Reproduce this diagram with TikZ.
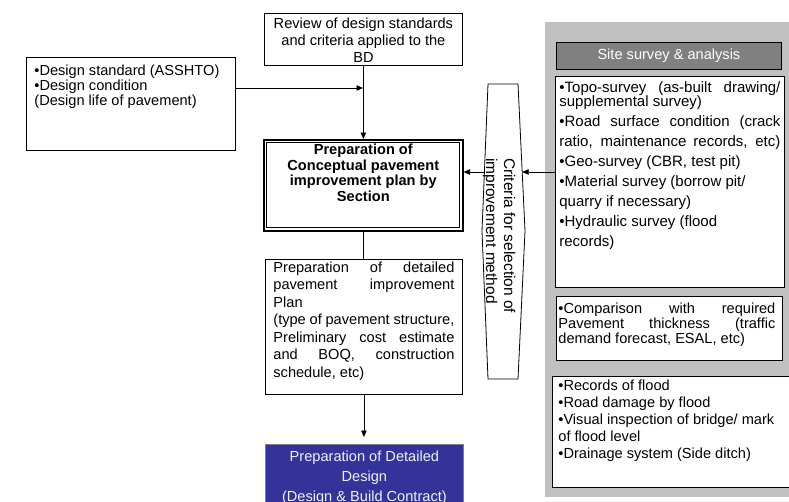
\documentclass[tikz,border=0pt]{standalone}
\usepackage{fontspec}
\setmainfont{Liberation Sans}
\usetikzlibrary{arrows.meta}

\definecolor{panelgray}{RGB}{192,192,192}
\definecolor{headgray}{RGB}{128,128,128}
\definecolor{deepblue}{RGB}{51,51,153}
\definecolor{paletext}{RGB}{240,240,250}

\newcommand\bul{\textbullet}
% one fully justified line of given width
\newcommand\jline[2][\linewidth]{\makebox[#1][s]{#2}}

\begin{document}
\begin{tikzpicture}[x=1pt,y=-1pt,
  font=\fontsize{14.6}{17}\selectfont,
  cell/.style={draw, line width=0.8pt, fill=white, anchor=north west, inner ysep=0pt},
  arr/.style={line width=0.8pt, -{Triangle[length=6.5pt,width=5.5pt]}},
  link/.style={line width=0.8pt}]
\useasboundingbox (0,0) rectangle (789,501);
\clip (0,0) rectangle (789,501);

% grey background of the survey column
\node[fill=panelgray, anchor=north west, minimum width=255pt, minimum height=475pt, inner sep=0pt] (panel) at (545,22) {};

% left-hand flow
\node[cell, inner xsep=2pt] (review) at (264,13)
  {\parbox[c][52pt][t]{194pt}{\centering\vspace*{4.5pt}Review of design standards\\ and criteria applied to the\\ BD}};

\node[cell, inner xsep=8pt] (cond) at (26,57)
  {\parbox[c][93pt][t]{193pt}{\fontsize{14.6}{14.7}\selectfont\vspace*{8pt}\bul Design standard (ASSHTO)\\ \bul Design condition\\ (Design life of pavement)}};

\node[cell, line width=1.6pt, inner xsep=2pt] (concept) at (263,139)
  {\parbox[c][91pt][t]{195pt}{\centering\bfseries\fontsize{14.6}{15.8}\selectfont\vspace*{4pt}Preparation of\\ Conceptual pavement\\ improvement plan by\\ Section}};
\draw[line width=0.7pt] ([shift={(3.8pt,-3.8pt)}]concept.north west) rectangle ([shift={(-3.8pt,3.8pt)}]concept.south east);

\node[cell, inner xsep=8pt] (detail) at (265,259)
  {\parbox[c][135pt][t]{181pt}{\fontsize{14.6}{17.5}\selectfont\vspace*{2.4pt}\jline{Preparation of detailed}\\ \jline{pavement improvement}\\ Plan\\ (type of pavement structure,\\ \jline{Preliminary cost estimate}\\ \jline{and BOQ, construction}\\ schedule, etc)}};

\node[cell, fill=deepblue, draw=gray, text=paletext, inner xsep=2pt] (final) at (265,444)
  {\parbox[c][70pt][t]{194pt}{\centering\fontsize{14.6}{20}\selectfont\vspace*{7pt}Preparation of Detailed\\ Design\\ (Design \& Build Contract)}};

% selection criteria
\draw[link, fill=white] (488,84) -- (518,84) -- (525,231) -- (518,379) -- (488,379) -- (482,231) -- cycle;
\coordinate (hexL) at (484.4,172);
\coordinate (hexR) at (522.2,172);
\node[rotate=-90, anchor=north west, inner sep=0pt, align=left, font=\fontsize{15.5}{18}\selectfont] (crit) at (515.6,158)
  {Criteria for selection of\\ improvement method};

% survey column
\node[draw, line width=0.8pt, fill=headgray, text=white, minimum width=225pt, minimum height=27pt, inner sep=0pt, anchor=north west] (head) at (556,42) {Site survey \& analysis};

\node[cell, inner xsep=4pt] (site) at (555,76)
  {\parbox[c][211pt][t]{221pt}{\fontsize{15}{20}\selectfont\vspace*{5pt}{\baselineskip=14.5pt \jline{\bul Topo-survey (as-built drawing/}\\ supplemental survey)\par}\jline{\bul Road surface condition (crack}\\ \jline{ratio, maintenance records, etc)}\\ \bul Geo-survey (CBR, test pit)\\ \bul Material survey (borrow pit/\\ quarry if necessary)\\ \bul Hydraulic survey (flood\\ records)}};

\node[cell, inner xsep=2pt] (compare) at (556,296)
  {\parbox[c][64pt][t]{222pt}{\fontsize{14.6}{15}\selectfont\vspace*{7pt}\jline[217pt]{\bul Comparison with required}\\ \jline[217pt]{Pavement thickness (traffic}\\ demand forecast, ESAL, etc)}};

\node[cell, inner xsep=6pt] (flood) at (552,376)
  {\parbox[c][111pt][t]{236pt}{\fontsize{14.6}{17}\selectfont\vspace*{3.5pt}\bul Records of flood\\ \bul Road damage by flood\\ \bul Visual inspection of bridge/ mark\\ of flood level\\ \bul Drainage system (Side ditch)}};

% connectors
\coordinate (jn) at (363,88);
\draw[arr] (cond.east |- jn) -- (jn);
\draw[arr] (review.south) -- (review.south |- concept.north);
\draw[link] (concept.south) -- (concept.south |- detail.north);
\draw[arr] (detail.south) -- ([yshift=7pt]detail.south |- final.north);
\draw[arr] (site.west |- hexR) -- (hexR);
\draw[arr] (hexL) -- (hexL -| concept.east);
\end{tikzpicture}
\end{document}
